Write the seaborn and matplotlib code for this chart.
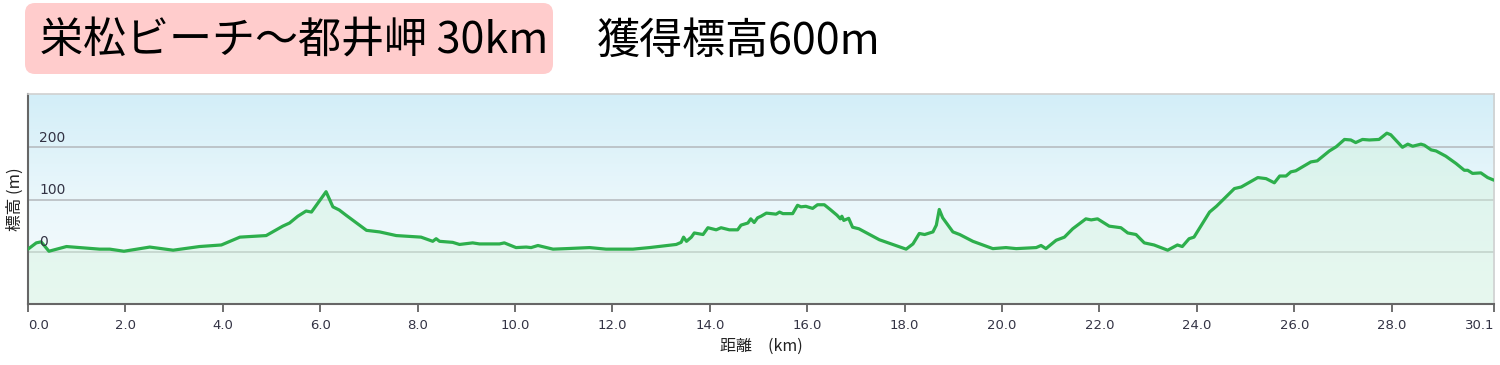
import numpy as np
import pandas as pd
import matplotlib
matplotlib.use("Agg")
import matplotlib.pyplot as plt
import seaborn as sns
from matplotlib.colors import LinearSegmentedColormap
from matplotlib.patches import FancyBboxPatch

# ---- data ----
dist_km = [0.00, 0.17, 0.27, 0.43, 0.79, 1.47, 1.68, 1.97, 2.50, 2.98, 3.52, 3.97, 4.35, 4.89,
           5.23, 5.37, 5.54, 5.71, 5.82, 6.12, 6.26, 6.39, 6.53, 6.95, 7.22, 7.56, 8.07, 8.31,
           8.38, 8.45, 8.72, 8.86, 9.13, 9.27, 9.68, 9.78, 10.02, 10.23, 10.33, 10.47, 10.78,
           11.05, 11.53, 11.87, 12.42, 12.76, 13.31, 13.41, 13.46, 13.52, 13.62, 13.68, 13.86,
           13.96, 14.13, 14.23, 14.40, 14.57, 14.64, 14.78, 14.84, 14.91, 14.98, 15.05, 15.16,
           15.36, 15.43, 15.50, 15.70, 15.80, 15.87, 15.97, 16.11, 16.21, 16.35, 16.47, 16.61,
           16.68, 16.71, 16.75, 16.85, 16.93, 17.06, 17.48, 18.03, 18.17, 18.30, 18.41, 18.58,
           18.65, 18.71, 18.78, 18.99, 19.13, 19.40, 19.81, 20.08, 20.29, 20.70, 20.80, 20.90,
           21.11, 21.28, 21.45, 21.72, 21.83, 21.96, 22.20, 22.44, 22.58, 22.75, 22.92, 23.12,
           23.40, 23.60, 23.70, 23.84, 23.94, 24.26, 24.40, 24.77, 24.91, 25.25, 25.42, 25.59,
           25.70, 25.83, 25.93, 26.03, 26.34, 26.47, 26.72, 26.86, 27.03, 27.16, 27.26, 27.40,
           27.54, 27.74, 27.90, 27.98, 28.11, 28.22, 28.33, 28.43, 28.60, 28.67, 28.81, 28.91,
           29.11, 29.32, 29.49, 29.56, 29.66, 29.83, 29.97, 30.10]
elev_m = [5, 17, 19, 1, 10, 5, 5, 1, 9, 3, 10, 13, 28, 31,
          49, 55, 68, 78, 76, 115, 86, 80, 70, 41, 38, 31, 28, 20,
          25, 20, 18, 14, 17, 15, 15, 17, 8, 9, 8, 12, 5,
          6, 8, 5, 5, 8, 14, 18, 28, 20, 28, 36, 33,
          46, 42, 46, 42, 42, 51, 55, 63, 56, 65, 68, 74,
          72, 76, 73, 73, 89, 86, 87, 83, 90, 90, 81, 70,
          63, 68, 60, 64, 47, 44, 23, 5, 15, 35, 33, 38,
          51, 81, 65, 38, 33, 20, 6, 8, 6, 8, 12, 6,
          22, 28, 44, 63, 61, 63, 49, 46, 36, 33, 17, 13,
          3, 13, 10, 25, 28, 76, 87, 121, 124, 142, 140, 132,
          145, 145, 153, 155, 172, 174, 193, 201, 215, 214, 209, 215,
          214, 215, 227, 224, 211, 200, 206, 202, 206, 204, 195, 193,
          183, 169, 156, 156, 150, 151, 142, 137]

x_ticks = [0, 2, 4, 6, 8, 10, 12, 14, 16, 18, 20, 22, 24, 26, 28, 30.1]
x_tick_labels = ["0.0", "2.0", "4.0", "6.0", "8.0", "10.0", "12.0", "14.0", "16.0",
                 "18.0", "20.0", "22.0", "24.0", "26.0", "28.0", "30.1"]
y_ticks = [0, 100, 200]

title_main = "栄松ビーチ〜都井岬 30km"
title_sub = "獲得標高600m"
x_label = "距離　(km)"
y_label = "標高 (m)"

df = pd.DataFrame({"dist": dist_km, "elev": elev_m})

# ---- figure ----
sns.set_theme(style="white")
plt.rcParams["font.family"] = ["Noto Sans CJK JP", "DejaVu Sans"]

W, H, DPI = 1500, 365, 100
fig = plt.figure(figsize=(W / DPI, H / DPI), dpi=DPI)
ax = fig.add_axes([28 / W, 1 - 304 / H, (1494 - 28) / W, 210 / H])

xmin, xmax, ymin, ymax = 0, 30.1, -100, 302

# gradient background: pale at the bottom, light blue at the top
cmap_bg = LinearSegmentedColormap.from_list("bg", ["#f7fcfd", "#eaf7fb", "#d3eef8"])
grad = np.linspace(0, 1, 256).reshape(-1, 1)
ax.imshow(grad, extent=[xmin, xmax, ymin, ymax], aspect="auto", cmap=cmap_bg,
          origin="lower", zorder=0, interpolation="bicubic")

# grid lines
for yv in y_ticks:
    ax.axhline(yv, color="#b4b8bc", lw=1.1, zorder=1)

# fill under curve
ax.fill_between(df["dist"], df["elev"], ymin, color="#d2f3dc", alpha=0.42, lw=0, zorder=2)

sns.lineplot(data=df, x="dist", y="elev", ax=ax, color="#2daf4c", lw=2.3, zorder=3,
             estimator=None, sort=False)

ax.set_xlim(xmin, xmax)
ax.set_ylim(ymin, ymax)

# y tick labels inside the plot
ax.set_yticks([])
for yv in y_ticks:
    ax.text(0.23, yv + 5, str(yv), fontsize=10, color="#333344", ha="left", va="bottom",
            family="DejaVu Sans", zorder=4)

ax.set_xticks(x_ticks)
ax.set_xticklabels(x_tick_labels, fontsize=9.5, color="#333344", family="DejaVu Sans")
lbls = ax.get_xticklabels()
lbls[0].set_ha("left")
lbls[-1].set_ha("right")
ax.tick_params(axis="x", bottom=True, direction="out", length=6, width=1.2,
               color="#555555", pad=5)

ax.set_xlabel(x_label, fontsize=11.5, color="#222222", labelpad=4)
ax.set_ylabel(y_label, fontsize=12, color="#222222", labelpad=3)

for side in ["left", "bottom"]:
    ax.spines[side].set_color("#666666")
    ax.spines[side].set_linewidth(1.5)
for side in ["top", "right"]:
    ax.spines[side].set_color("#d0d0d0")
    ax.spines[side].set_linewidth(1.2)
    ax.spines[side].set_visible(True)

# title box
box = FancyBboxPatch((25 / DPI, (H - 74) / DPI), 528 / DPI, 71 / DPI,
                     boxstyle="round,pad=0,rounding_size=0.1",
                     transform=fig.dpi_scale_trans, fc="#ffcccc", ec="none")
fig.add_artist(box)
fig.text(40 / W, 1 - 42 / H, title_main, fontsize=31, ha="left", va="center", color="black")
fig.text(597 / W, 1 - 42 / H, title_sub, fontsize=31, ha="left", va="center", color="black")

fig.savefig("out.png", dpi=DPI, facecolor="white")
